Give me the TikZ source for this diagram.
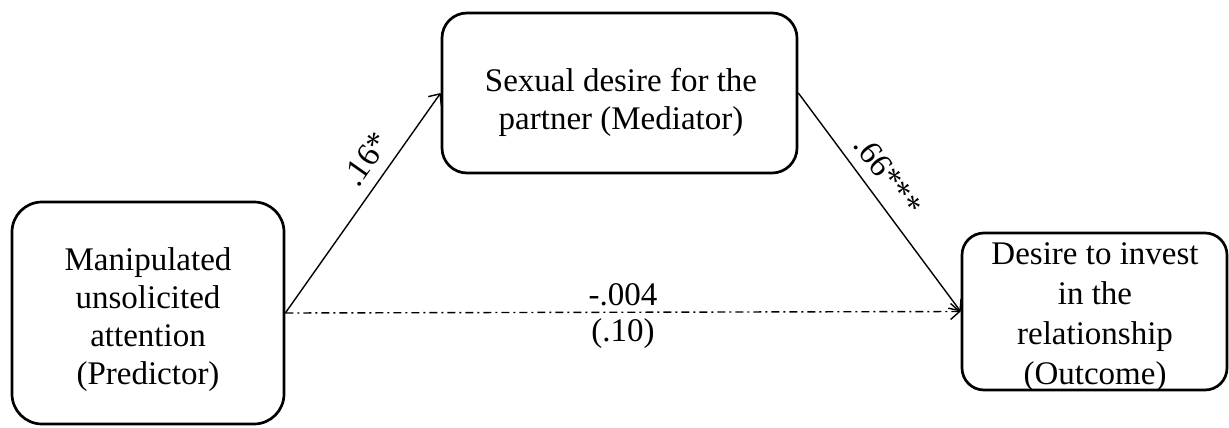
\documentclass[tikz,border=0pt]{standalone}
\usepackage{fontspec}
\setmainfont{Liberation Serif}
\usetikzlibrary{arrows.meta}
\begin{document}
\begin{tikzpicture}[x=1pt,y=-1pt,
  box/.style={draw, line width=2.7pt, inner sep=0pt},
  txt/.style={align=center, inner sep=0pt, font=\fontsize{33}{38}\selectfont},
  conn/.style={line width=1.4pt, -{Straight Barb[length=9pt,width=16pt,line width=1.4pt]}},
  dashdot/.style={dash pattern=on 8pt off 4pt on 2pt off 4pt},
  lbl/.style={font=\fontsize{33}{38}\selectfont, inner sep=3pt},
  hlbl/.style={font=\fontsize{33}{38}\selectfont, inner sep=6pt}]
\useasboundingbox (0,0) rectangle (1229,428);
\node[box, minimum width=272pt, minimum height=222pt, rounded corners=30pt] (pred) at (148,313) {};
\node[box, minimum width=355pt, minimum height=160pt, rounded corners=25pt] (med) at (619.5,93) {};
\node[box, minimum width=265pt, minimum height=157pt, rounded corners=22pt] (out) at (1094.5,311.5) {};
\node[txt] (predt) at (148,320) {Manipulated\\unsolicited\\attention\\(Predictor)};
\node[txt] (medt) at (621,102) {Sexual desire for the\\partner (Mediator)};
\node[txt, font=\fontsize{33}{40}\selectfont] (outt) at (1095,317) {Desire to invest\\in the\\relationship\\(Outcome)};
\draw[conn] (pred.east) -- node[lbl, above=8pt, sloped, pos=0.64] (a) {.16*} (med.west);
\draw[conn] (med.east) -- node[lbl, above=8pt, sloped, pos=0.44] (b) {.66***} (out.west);
\draw[conn, dashdot] (pred.east) -- node[hlbl, above, pos=0.5] (c) {-.004} node[hlbl, below, pos=0.5] (d) {(.10)} (out.west);
\end{tikzpicture}
\end{document}
